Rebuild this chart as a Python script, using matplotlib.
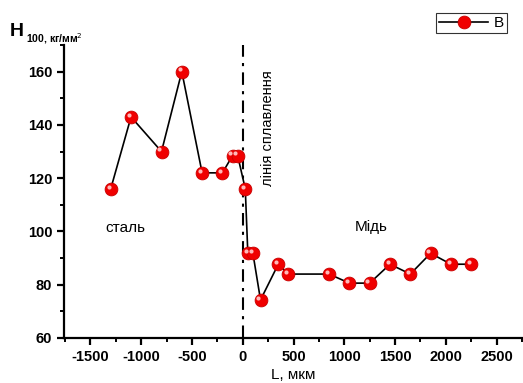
import matplotlib
matplotlib.use("Agg")
import matplotlib.pyplot as plt
import matplotlib.transforms as mtransforms

plt.rcParams['font.family'] = ['Liberation Sans', 'DejaVu Sans']
plt.rcParams['axes.unicode_minus'] = False

# distance from fusion line, мкм
L = [-1300, -1100, -800, -600, -400, -200, -100, -50, 25, 50, 100, 175,
     350, 450, 850, 1050, 1250, 1450, 1650, 1850, 2050, 2250]
# microhardness H100, кг/мм2
H = [116, 143, 130, 160, 122, 122, 128.5, 128.5, 116, 91.8, 91.8, 74.3,
     87.7, 84, 84, 80.6, 80.6, 87.7, 84, 91.8, 87.7, 87.7]

xticks = [-1500, -1000, -500, 0, 500, 1000, 1500, 2000, 2500]
yticks = [60, 80, 100, 120, 140, 160]

fig = plt.figure(figsize=(5.23, 3.83), dpi=100)
ax = fig.add_axes([0.1224, 0.1175, 0.8757, 0.765])

ax.plot(L, H, color='black', lw=1.2, marker='o', ms=9.2,
        mfc='#f00000', mec='#c80000', mew=0.6, label='B', zorder=3)
# little glossy highlight on every sphere
hl = mtransforms.offset_copy(ax.transData, fig=fig, x=-1.6, y=1.6, units='points')
ax.plot(L, H, ls='none', marker='o', ms=3, mfc='#ffb8b8', mec='none',
        transform=hl, zorder=4)

ax.axvline(0, color='black', lw=1.5, dashes=(6, 3, 1.5, 3), zorder=2)

ax.set_xlim(-1760, 2750)
ax.set_ylim(60, 170)
ax.set_xticks(xticks)
ax.set_yticks(yticks)
ax.set_xticks([-1750, -1250, -750, -250, 250, 750, 1250, 1750, 2250, 2750], minor=True)
ax.set_yticks([70, 90, 110, 130, 150, 170], minor=True)

for s in ['top', 'right']:
    ax.spines[s].set_visible(False)
for s in ['left', 'bottom']:
    ax.spines[s].set_linewidth(1.6)
ax.tick_params(which='major', direction='out', length=5, width=1.6,
               labelsize=10.5)
ax.tick_params(which='minor', direction='out', length=3, width=1.4)
for lab in ax.get_xticklabels() + ax.get_yticklabels():
    lab.set_fontweight('bold')

ax.set_xlabel('L, мкм', fontsize=11, labelpad=3)
fig.text(0.018, 0.905, 'H', fontsize=14, fontweight='bold', va='baseline')
fig.text(0.049, 0.889, '100, кг/мм$^2$', fontsize=7.5, fontweight='bold', va='baseline')

ax.text(-1350, 101.3, 'сталь', fontsize=11, va='center')
ax.text(1100, 101.7, 'Мідь', fontsize=11, va='center')
ax.text(250, 160.7, 'лінія сплавлення', rotation=90, fontsize=10.5,
        va='top', ha='center')

leg = ax.legend(loc='upper right', bbox_to_anchor=(0.967, 1.109),
                frameon=True, fancybox=False, fontsize=11,
                handlelength=3.2, borderpad=0.2, handletextpad=0.35,
                borderaxespad=0)
leg.get_frame().set_edgecolor('black')
leg.get_frame().set_linewidth(0.8)

fig.savefig('out.png', dpi=100)
